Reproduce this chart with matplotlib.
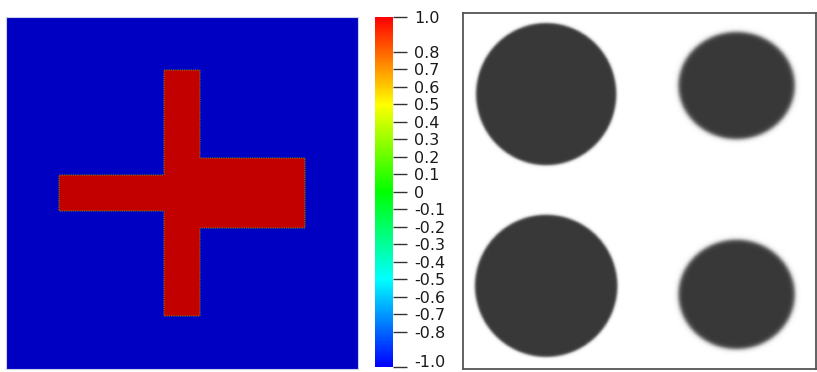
import numpy as np
import matplotlib.pyplot as plt
from matplotlib.colors import LinearSegmentedColormap, to_rgb
from matplotlib.transforms import ScaledTranslation

# ==========================================================
# DATA
# ==========================================================
# cross made of three rectangles (domain 0..1)
rect_x0 = [0.45, 0.15, 0.55]
rect_x1 = [0.55, 0.45, 0.85]
rect_y0 = [0.15, 0.45, 0.40]
rect_y1 = [0.85, 0.55, 0.60]

# four drops (domain 0..1)
drop_cx = [0.235, 0.773, 0.235, 0.773]
drop_cy = [0.770, 0.794, 0.233, 0.209]
drop_rx = [0.198, 0.164, 0.201, 0.164]
drop_ry = [0.199, 0.150, 0.199, 0.153]
drop_edge = [0.004, 0.007, 0.004, 0.007]

cbar_ticks = [1.0, 0.8, 0.7, 0.6, 0.5, 0.4, 0.3, 0.2, 0.1, 0,
              -0.1, -0.2, -0.3, -0.4, -0.5, -0.6, -0.7, -0.8, -1.0]
cbar_labels = ["1.0", "0.8", "0.7", "0.6", "0.5", "0.4", "0.3", "0.2", "0.1", "0",
               "-0.1", "-0.2", "-0.3", "-0.4", "-0.5", "-0.6", "-0.7", "-0.8", "-1.0"]

# ==========================================================
# COLORMAPS
# ==========================================================
rainbow = ["#0000ff", "#00ffff", "#00ff00", "#ffff00", "#ff0000"]
cmap = LinearSegmentedColormap.from_list("rainbow", rainbow)
shade = 0.765
cmap_lit = LinearSegmentedColormap.from_list(
    "rainbow_lit",
    [tuple(c * shade for c in to_rgb(h)) for h in rainbow]
)
grey_cmap = LinearSegmentedColormap.from_list("drops", ["#ffffff", "#383838"])

# ==========================================================
# FIELDS
# ==========================================================
n = 352
s = (np.arange(n) + 0.5) / n
X, Y = np.meshgrid(s, s)

phi = -np.ones((n, n))
for x0, x1, y0, y1 in zip(rect_x0, rect_x1, rect_y0, rect_y1):
    inside = (X >= x0) & (X <= x1) & (Y >= y0) & (Y <= y1)
    phi[inside] = 1.0

m = 420
t = (np.arange(m) + 0.5) / m
U, V = np.meshgrid(t, t)
conc = np.zeros((m, m))
for cx, cy, rx, ry, w in zip(drop_cx, drop_cy, drop_rx, drop_ry, drop_edge):
    d = np.sqrt(((U - cx) / rx) ** 2 + ((V - cy) / ry) ** 2)
    r = 0.5 * (rx + ry)
    c = 0.5 * (1 - np.tanh((d - 1) * r / w))
    conc = np.maximum(conc, c)

# ==========================================================
# FIGURE
# ==========================================================
fig = plt.figure(figsize=(8.17, 3.72), dpi=100)

ax1 = fig.add_axes([0.00734, 0.00806, 0.4308, 0.9462])
ax1.imshow(phi, cmap=cmap_lit, vmin=-1, vmax=1, origin="lower",
           extent=[0, 1, 0, 1], interpolation="nearest")
ax1.contour(X, Y, phi, levels=[0], colors="#6e8a12", linewidths=0.8,
            linestyles=[(0, (1, 1))])
ax1.set_xticks([])
ax1.set_yticks([])
for sp in ax1.spines.values():
    sp.set_color("#c9d2e6")
    sp.set_linewidth(0.8)

cax = fig.add_axes([0.459, 0.01344, 0.0220, 0.9409])
sm = plt.cm.ScalarMappable(cmap=cmap, norm=plt.Normalize(-1, 1))
cb = fig.colorbar(sm, cax=cax)
cb.outline.set_visible(False)
cb.set_ticks(cbar_ticks)
cb.set_ticklabels(cbar_labels)
cax.tick_params(length=10, width=1, color="#333333", labelsize=11.5,
                labelcolor="#1a1a1a", pad=5)

# keep the bottom label inside the canvas
last = cax.get_yticklabels()[-1]
last.set_transform(last.get_transform() + ScaledTranslation(0, 4 / 72, fig.dpi_scale_trans))

ax2 = fig.add_axes([0.5667, 0.00806, 0.4321, 0.957])
ax2.imshow(conc, cmap=grey_cmap, vmin=0, vmax=1, origin="lower",
           extent=[0, 1, 0, 1], aspect="auto", interpolation="bilinear")
ax2.set_xticks([])
ax2.set_yticks([])
for sp in ax2.spines.values():
    sp.set_color("#555555")
    sp.set_linewidth(1.3)

fig.savefig("out.png", dpi=100)
